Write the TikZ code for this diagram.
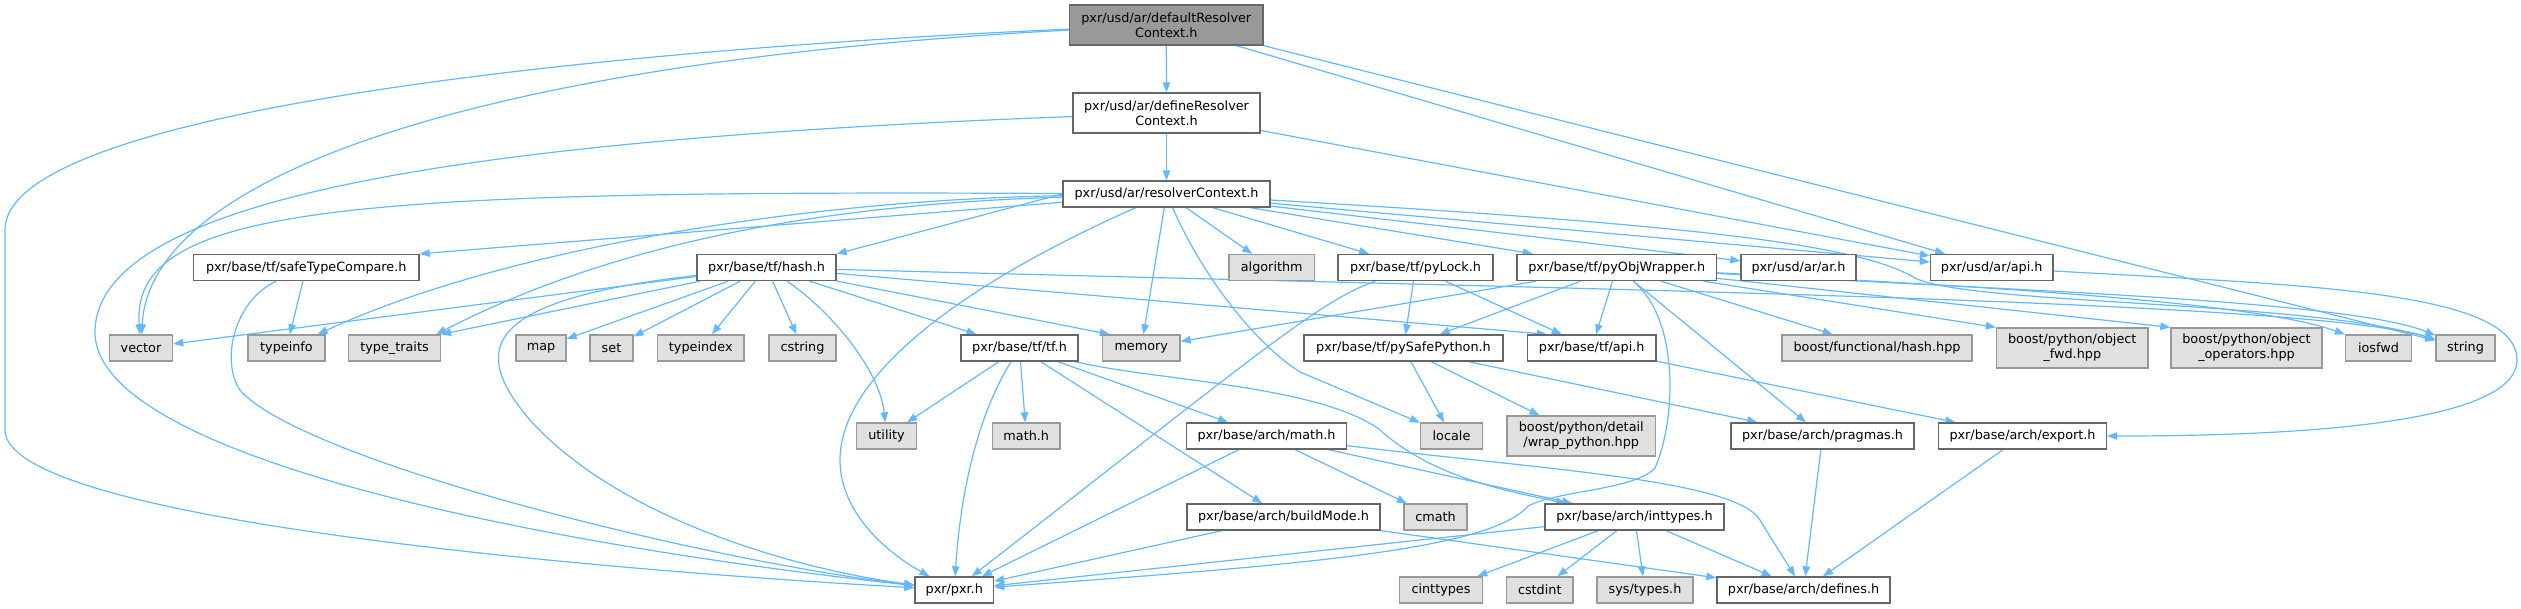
\documentclass[tikz,border=0pt]{standalone}
\usepackage{fontspec}
\setmainfont{DejaVu Sans}
\usetikzlibrary{arrows.meta}
\pgfdeclarelayer{bg}
\pgfsetlayers{bg,main}
\definecolor{edgec}{HTML}{63B8FF}
\definecolor{boxline}{HTML}{666666}
\definecolor{sysline}{HTML}{999999}
\definecolor{sysfill}{HTML}{E0E0E0}
\definecolor{rootfill}{HTML}{999999}
\tikzset{
  gbase/.style={draw, line width=1.4pt, inner sep=0pt, align=center,
    font=\fontsize{12.8}{15}\selectfont, text=black},
  gfile/.style={gbase, draw=boxline, fill=white},
  gsys/.style={gbase, draw=sysline, fill=sysfill},
  groot/.style={gbase, draw=boxline, fill=rootfill},
  gedge/.style={draw=edgec, line width=1.2pt, -{Triangle[length=10pt,width=7.5pt]}},
}
\newcommand{\bx}[6]{\node[#1,minimum width=#4pt,minimum height=#5pt] (#2) at (#3) {#6};}
\begin{document}
\begin{tikzpicture}[x=1pt,y=-1pt]
\useasboundingbox (0,0) rectangle (2521,608);
% row A-C
\bx{groot}{default}{1166.25,25}{193.5}{40}{pxr/usd/ar/defaultResolver\\Context.h}
\bx{gfile}{define}{1166.5,113}{187}{40}{pxr/usd/ar/defineResolver\\Context.h}
\bx{gfile}{resolver}{1166.5,194}{207}{26}{pxr/usd/ar/resolverContext.h}
% row D
\bx{gfile}{safe}{306.25,267.5}{225.5}{26}{pxr/base/tf/safeTypeCompare.h}
\bx{gfile}{hash}{766.5,267.5}{139}{26}{pxr/base/tf/hash.h}
\bx{gsys}{algorithm}{1271.75,267.5}{85.5}{26}{algorithm}
\bx{gfile}{pylock}{1415.5,267.5}{155}{26}{pxr/base/tf/pyLock.h}
\bx{gfile}{pyobj}{1616.75,267.5}{199.5}{26}{pxr/base/tf/pyObjWrapper.h}
\bx{gfile}{arar}{1798.5,267.5}{115}{26}{pxr/usd/ar/ar.h}
\bx{gfile}{arapi}{1991.75,267.5}{122.5}{26}{pxr/usd/ar/api.h}
% row E
\bx{gsys}{vector}{141,348}{63}{26}{vector}
\bx{gsys}{typeinfo}{286.5,348}{77}{26}{typeinfo}
\bx{gsys}{typetraits}{394.5,348}{92}{26}{type\_traits}
\bx{gsys}{map}{541,348}{50}{26}{map}
\bx{gsys}{set}{611.5,348}{43}{26}{set}
\bx{gsys}{typeindex}{700.75,348}{86.5}{26}{typeindex}
\bx{gsys}{cstring}{802.5,348}{67}{26}{cstring}
\bx{gfile}{tf}{1019.5,348}{117}{26}{pxr/base/tf/tf.h}
\bx{gsys}{memory}{1141.25,348}{77.5}{26}{memory}
\bx{gfile}{pysafe}{1403.5,348}{199}{26}{pxr/base/tf/pySafePython.h}
\bx{gfile}{tfapi}{1591.75,348}{128.5}{26}{pxr/base/tf/api.h}
\bx{gsys}{boostfunc}{1877,348}{190}{26}{boost/functional/hash.hpp}
\bx{gsys}{objfwd}{2072.25,348}{151.5}{40}{boost/python/object\\\_fwd.hpp}
\bx{gsys}{objops}{2246.5,348}{151}{40}{boost/python/object\\\_operators.hpp}
\bx{gsys}{iosfwd}{2378.5,348}{66}{26}{iosfwd}
\bx{gsys}{string}{2465.5,348}{59}{26}{string}
% row F
\bx{gsys}{utility}{886.5,436}{60}{26}{utility}
\bx{gsys}{mathh}{1026.25,436}{67.5}{26}{math.h}
\bx{gfile}{archmath}{1266.5,436}{160}{26}{pxr/base/arch/math.h}
\bx{gsys}{locale}{1451.5,436}{62}{26}{locale}
\bx{gsys}{wrappy}{1581.25,436}{148.5}{40}{boost/python/detail\\/wrap\_python.hpp}
\bx{gfile}{pragmas}{1822.5,436}{183}{26}{pxr/base/arch/pragmas.h}
\bx{gfile}{export}{2022.5,436}{168}{26}{pxr/base/arch/export.h}
% row G
\bx{gfile}{buildmode}{1283.5,517}{193}{26}{pxr/base/arch/buildMode.h}
\bx{gsys}{cmath}{1435.5,517}{63}{26}{cmath}
\bx{gfile}{inttypes}{1634.5,517}{179}{26}{pxr/base/arch/inttypes.h}
% row H
\bx{gfile}{pxr}{954.25,590}{78.5}{26}{pxr/pxr.h}
\bx{gsys}{cinttypes}{1441,590}{83}{26}{cinttypes}
\bx{gsys}{cstdint}{1539.75,590}{66.5}{26}{cstdint}
\bx{gsys}{systypes}{1645,590}{96}{26}{sys/types.h}
\bx{gfile}{defines}{1803.5,590}{173}{26}{pxr/base/arch/defines.h}

\begin{pgfonlayer}{bg}
% defaultResolverContext.h
\draw[gedge] (default) -- (define);
\draw[gedge] (default) .. controls (700,45) and (5,100) .. (5,230) -- (5,430) .. controls (5,520) and (600,570) .. (pxr);
\draw[gedge] (default) .. controls (500,60) and (150,170) .. (vector);
\draw[gedge] (default) -- (arapi);
\draw[gedge] (default.south east) -- (string);
% defineResolverContext.h
\draw[gedge] (define) -- (resolver);
\draw[gedge] (define) .. controls (450,140) and (100,200) .. (95,330) .. controls (90,450) and (500,540) .. (pxr);
\draw[gedge] (define) -- (arapi);
% resolverContext.h
\draw[gedge] (resolver) .. controls (950,290) and (840,380) .. (840,460) .. controls (840,520) and (900,560) .. (pxr);
\draw[gedge] (resolver) -- (arapi);
\draw[gedge] (resolver) -- (arar);
\draw[gedge] (resolver.west) -- (hash.north east);
\draw[gedge] (resolver) -- (safe.north east);
\draw[gedge] (resolver) -- (pylock);
\draw[gedge] (resolver) -- (pyobj);
\draw[gedge] (resolver) -- (algorithm);
\draw[gedge] (resolver) -- (memory);
\draw[gedge] (resolver) .. controls (1200,270) and (1250,340) .. (1300,372) -- (locale);
\draw[gedge] (resolver) .. controls (800,205) and (600,250) .. ([xshift=-5pt]typetraits.north east);
\draw[gedge] (resolver) .. controls (800,200) and (500,250) .. ([xshift=-8pt]typeinfo.north east);
\draw[gedge] (resolver) .. controls (350,190) and (130,205) .. (vector);
\draw[gedge] (resolver) .. controls (1700,225) and (1860,245) .. (1915,278) .. controls (1970,305) and (2300,300) .. (string);
% safeTypeCompare.h
\draw[gedge] (safe) -- (typeinfo);
\draw[gedge] (safe) .. controls (235,300) and (220,360) .. (240,390) .. controls (300,460) and (700,560) .. (pxr);
% hash.h
\draw[gedge] (hash) -- (tf);
\draw[gedge] (hash) -- ([xshift=20pt]tfapi.north west);
\draw[gedge] (hash) -- ([xshift=8pt]memory.north west);
\draw[gedge] (hash) .. controls (1600,290) and (2300,300) .. (string);
\draw[gedge] (hash) -- (vector);
\draw[gedge] (hash) -- (typetraits.north east);
\draw[gedge] (hash) -- (map);
\draw[gedge] (hash) -- (set);
\draw[gedge] (hash) -- (typeindex);
\draw[gedge] (hash) -- (cstring);
\draw[gedge] (hash) .. controls (830,310) and (880,370) .. (utility);
\draw[gedge] (hash) .. controls (480,300) and (470,350) .. (530,420) .. controls (620,520) and (800,570) .. (pxr);
% tf.h
\draw[gedge] (tf) -- (utility);
\draw[gedge] (tf) .. controls (975,420) and (960,500) .. (pxr);
\draw[gedge] (tf) -- (mathh);
\draw[gedge] (tf) -- (archmath);
\draw[gedge] (tf) -- (buildmode);
\draw[gedge] (tf) .. controls (1150,380) and (1320,385) .. (1380,430) .. controls (1430,475) and (1500,490) .. (inttypes);
% arch/math.h
\draw[gedge] (archmath) -- (pxr);
\draw[gedge] (archmath) -- (cmath);
\draw[gedge] (archmath) -- (inttypes);
\draw[gedge] (archmath) .. controls (1550,470) and (1735,480) .. (1760,520) .. controls (1775,545) and (1785,560) .. (defines);
% buildMode.h
\draw[gedge] (buildmode) -- (pxr);
\draw[gedge] (buildmode) -- (defines);
% inttypes.h
\draw[gedge] (inttypes) -- (pxr);
\draw[gedge] (inttypes) -- (cinttypes);
\draw[gedge] (inttypes) -- (cstdint);
\draw[gedge] (inttypes) -- (systypes);
\draw[gedge] (inttypes) -- (defines);
% pyLock.h
\draw[gedge] (pylock) -- (pysafe);
\draw[gedge] (pylock) -- (tfapi);
\draw[gedge] (pylock) .. controls (1320,300) and (1250,360) .. (pxr);
% pyObjWrapper.h
\draw[gedge] (pyobj) -- (pysafe);
\draw[gedge] (pyobj) -- (tfapi);
\draw[gedge] (pyobj) -- (memory);
\draw[gedge] (pyobj) .. controls (1680,320) and (1676,420) .. (1655,468) .. controls (1635,490) and (1560,490) .. (1528,506) .. controls (1490,550) and (1300,565) .. (pxr);
\draw[gedge] (pyobj) -- (pragmas);
\draw[gedge] (pyobj) -- (boostfunc);
\draw[gedge] (pyobj) -- (objfwd.north west);
\draw[gedge] (pyobj) -- (objops.north west);
\draw[gedge] (pyobj) .. controls (1950,285) and (2250,300) .. (iosfwd.north west);
\draw[gedge] (pyobj) .. controls (2000,290) and (2350,300) .. (string);
% pySafePython.h
\draw[gedge] (pysafe) -- (locale);
\draw[gedge] (pysafe) -- (wrappy);
\draw[gedge] (pysafe) -- (pragmas);
% api headers
\draw[gedge] (tfapi) -- (export);
\draw[gedge] (arapi) .. controls (2300,285) and (2517,290) .. (2517,360) .. controls (2517,430) and (2250,436) .. (export);
% arch
\draw[gedge] (pragmas) -- (defines);
\draw[gedge] (export) -- (defines);
\end{pgfonlayer}
\end{tikzpicture}
\end{document}
